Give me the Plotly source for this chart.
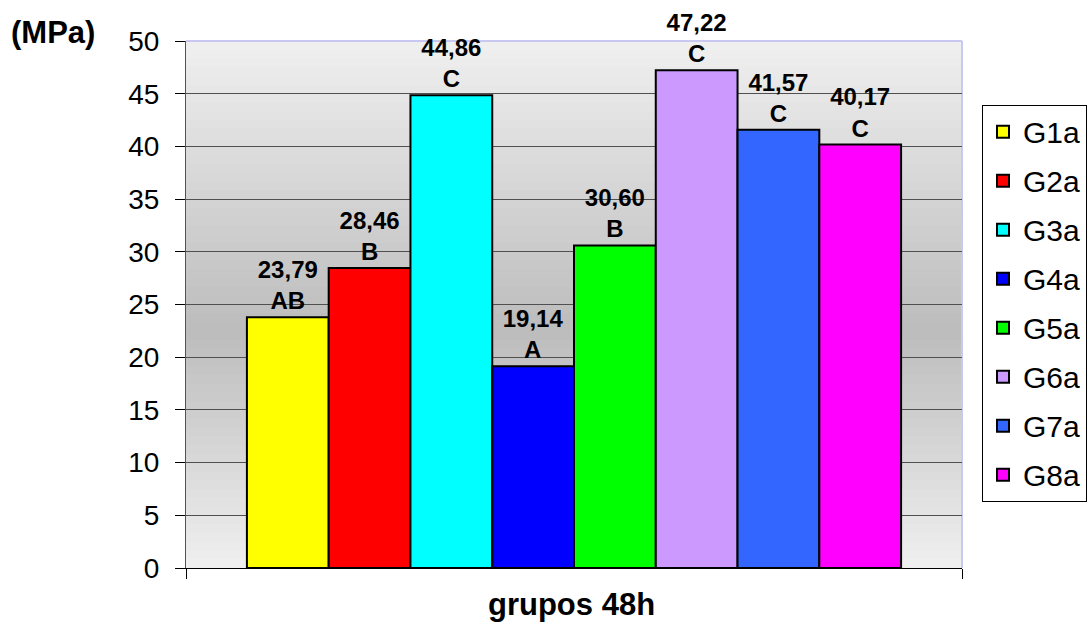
import plotly.graph_objects as go

# dados
grupos = ["G1a", "G2a", "G3a", "G4a", "G5a", "G6a", "G7a", "G8a"]
valores = [23.79, 28.46, 44.86, 19.14, 30.60, 47.22, 41.57, 40.17]
letras = ["AB", "B", "C", "A", "B", "C", "C", "C"]
cores = ["#FFFF00", "#FF0000", "#00FFFF", "#0000FF",
         "#00FF00", "#CC99FF", "#3366FF", "#FF00FF"]
y_ticks = [0, 5, 10, 15, 20, 25, 30, 35, 40, 45, 50]

FONT = "Liberation Sans, Arial, sans-serif"

fig = go.Figure()
for g, v, l, c in zip(grupos, valores, letras, cores):
    fig.add_trace(go.Bar(
        x=[0], y=[v],
        name=g,
        legendgroup=g,
        marker=dict(color=c, line=dict(color="black", width=2)),
        text=[f"{v:.2f}".replace(".", ",") + f"<br>{l}"],
        textposition="outside",
        textfont=dict(family=FONT, size=24, color="black", weight="bold"),
        cliponaxis=False,
    ))

# fundo em degradê (claro - escuro - claro)
n = 60
for i in range(n):
    f = (i + 0.5) / n
    if f < 0.45:
        t = f / 0.45
    else:
        t = (1 - f) / 0.55
    g = int(round(240 - (240 - 188) * t))
    fig.add_shape(type="rect", xref="x domain", yref="y domain",
                  x0=0, x1=1, y0=i / n, y1=(i + 1) / n + 0.002,
                  fillcolor=f"rgb({g},{g},{g})", line=dict(width=0),
                  layer="below")

# borda superior e direita
fig.add_shape(type="line", xref="x domain", yref="y domain",
              x0=0, x1=1, y0=1, y1=1, line=dict(color="#c8c8f0", width=2),
              layer="below")
fig.add_shape(type="line", xref="x domain", yref="y domain",
              x0=1, x1=1, y0=0, y1=1, line=dict(color="#c8c8f0", width=2),
              layer="below")

fig.add_annotation(text="<b>(MPa)</b>", xref="paper", yref="paper",
                   x=-0.228, y=1.017, xanchor="left", yanchor="middle",
                   showarrow=False, font=dict(family=FONT, size=31, color="black"))
fig.add_annotation(text="<b>grupos 48h</b>", xref="paper", yref="paper",
                   x=0.497, y=-0.07, xanchor="center", yanchor="middle",
                   showarrow=False, font=dict(family=FONT, size=31, color="black"))

fig.update_layout(
    width=1090, height=624,
    margin=dict(l=186, r=128, t=41, b=56, autoexpand=False),
    paper_bgcolor="white",
    plot_bgcolor="rgba(0,0,0,0)",
    barmode="group",
    bargap=0.157,
    bargroupgap=0,
    font=dict(family=FONT, color="black"),
    showlegend=True,
    legend=dict(
        x=1.0258, y=0.879, xanchor="left", yanchor="top",
        bordercolor="black", borderwidth=1, bgcolor="white",
        font=dict(family=FONT, size=30, color="black"),
        tracegroupgap=7,
    ),
    xaxis=dict(
        type="linear", range=[-0.5, 0.5],
        tickvals=[-0.5, 0.5], showticklabels=False,
        ticks="outside", ticklen=10, tickcolor="black",
        showline=True, linecolor="black", linewidth=1,
        showgrid=False, zeroline=False,
    ),
    yaxis=dict(
        range=[0, 50], tickvals=y_ticks,
        ticks="outside", ticklen=10, tickcolor="black",
        tickfont=dict(family=FONT, size=28, color="black"),
        ticklabelstandoff=10,
        showline=True, linecolor="#50506a", linewidth=1,
        showgrid=True, gridcolor="#505050", gridwidth=1,
        zeroline=False,
    ),
)

fig.write_html("out.html", config={"displayModeBar": False},
               post_script="document.body.style.margin='0';")
